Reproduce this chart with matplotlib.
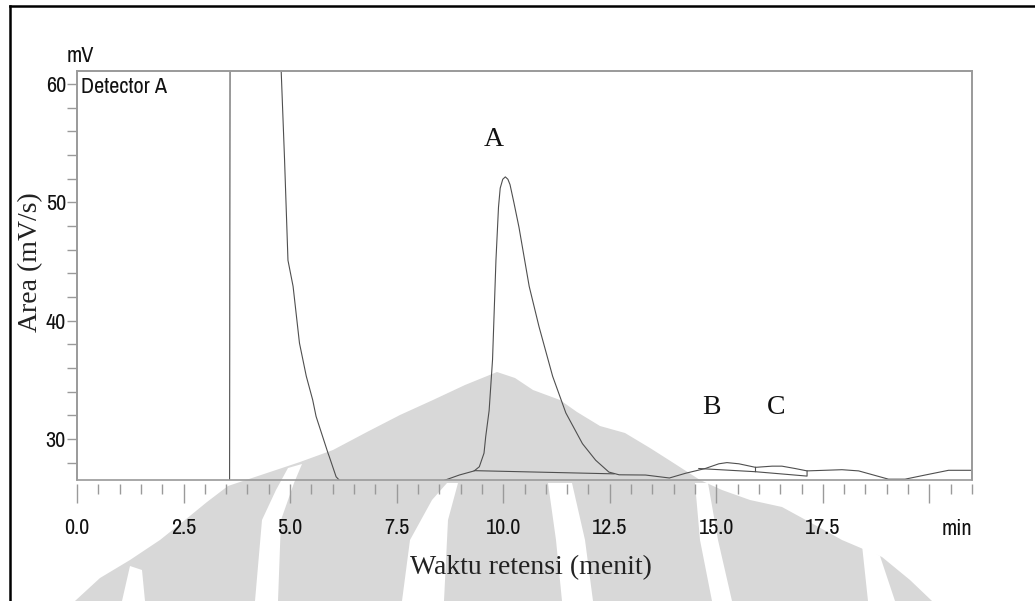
import numpy as np
import matplotlib.pyplot as plt
from matplotlib import font_manager
from matplotlib.patches import Polygon, Rectangle
from matplotlib.lines import Line2D

# detector trace (min, mV); values outside the window are clipped by the axes
time_min = [0.0, 3.58, 3.60, 4.75, 4.79, 4.87, 4.95, 5.07, 5.22, 5.38, 5.53, 5.61,
            5.89, 5.92, 6.08, 6.16, 6.5, 7.5, 8.3, 8.62, 8.97, 9.32, 9.44, 9.55,
            9.59, 9.67, 9.75, 9.83, 9.89, 9.93, 9.99, 10.05, 10.11, 10.16, 10.25,
            10.37, 10.61, 10.84, 11.16, 11.47, 11.86, 12.17, 12.48, 12.72, 13.34,
            13.81, 13.9, 14.28, 14.74, 15.06, 15.25, 15.53, 15.92, 16.31, 16.54,
            16.85, 17.13, 17.95, 18.34, 19.04, 19.43, 19.9, 20.45, 21.0]
signal_mv = [26.0, 26.0, 90.0, 90.0, 61.2, 53.6, 45.1, 42.9, 38.1, 35.3, 33.3, 31.9,
             28.8, 28.5, 26.8, 26.5, 25.8, 25.6, 25.9, 26.5, 26.95, 27.3, 27.65, 28.8,
             30.2, 32.4, 36.7, 45.1, 49.6, 51.2, 51.95, 52.15, 51.95, 51.5, 50.0,
             47.9, 42.9, 39.5, 35.3, 32.2, 29.6, 28.2, 27.2, 26.97, 26.95,
             26.74, 26.7, 27.1, 27.5, 27.9, 28.0, 27.9, 27.6, 27.7, 27.7,
             27.5, 27.3, 27.4, 27.3, 26.6, 26.6, 26.95, 27.35, 27.35]

# integration baselines of the three peaks
base_a_t = [9.32, 12.6]
base_a_mv = [27.32, 27.05]
base_b_t = [14.59, 15.92, 15.92]
base_b_mv = [27.5, 27.23, 27.6]
base_c_t = [15.92, 17.13, 17.13]
base_c_mv = [27.23, 26.86, 27.3]

peak_names = ['A', 'B', 'C']
peak_t = [9.77, 14.88, 16.4]
peak_mv = [55.3, 32.7, 32.7]

x_major = [0.0, 2.5, 5.0, 7.5, 10.0, 12.5, 15.0, 17.5, 20.0]
x_labels = ['0.0', '2.5', '5.0', '7.5', '10.0', '12.5', '15.0', '17.5', '']
y_major = [30, 40, 50, 60]

W, H = 1035, 601

# narrow sans for the instrument labels
installed = {f.name for f in font_manager.fontManager.ttflist}
narrow = 'Liberation Sans'
for cand in ['Liberation Sans Narrow', 'Arial Narrow', 'Archivo Narrow', 'PT Sans Narrow',
             'Roboto Condensed', 'Pragati Narrow', 'Asap Condensed', 'Fira Sans Condensed',
             'IBM Plex Sans Condensed', 'Encode Sans Condensed', 'Open Sans Condensed']:
    if cand in installed:
        narrow = cand
        break
tk = dict(family=narrow, fontsize=16, color='#111111')
serif = 'Liberation Serif'

fig = plt.figure(figsize=(W / 100, H / 100), dpi=100, facecolor='white')


def px(x, y):
    return (x / W, 1 - y / H)


# faint logo watermark behind the plot
wm_color = '#d8d8d8'
dome = [(75, 601), (100, 578), (130, 560), (160, 540), (185, 520), (207, 502),
        (228, 486), (270, 472), (300, 462), (333, 450), (367, 432), (400, 415),
        (433, 400), (465, 385), (497, 372), (515, 378), (533, 390), (560, 400),
        (577, 412), (600, 426), (625, 433), (650, 448), (672, 462), (700, 480),
        (722, 490), (750, 500), (782, 507), (815, 525), (842, 540), (882, 557),
        (910, 580), (932, 601)]
fig.patches.append(Polygon([px(*p) for p in dome], closed=True, transform=fig.transFigure,
                           facecolor=wm_color, edgecolor='none', zorder=-2))
gaps = [
    [(122, 601), (145, 601), (142, 570), (130, 566)],
    [(255, 601), (278, 601), (281, 520), (294, 483), (302, 464), (288, 468), (276, 490), (262, 520)],
    [(402, 601), (444, 601), (448, 520), (458, 483), (447, 483), (432, 500), (410, 540)],
    [(548, 483), (572, 483), (585, 540), (593, 601), (562, 601), (556, 540)],
    [(695, 483), (708, 483), (718, 540), (732, 601), (712, 601), (700, 540)],
    [(862, 545), (880, 556), (895, 601), (868, 601)],
]
for g in gaps:
    fig.patches.append(Polygon([px(*p) for p in g], closed=True, transform=fig.transFigure,
                               facecolor='white', edgecolor='none', zorder=-1))

# page border
fig.add_artist(Line2D([10 / W, 1], [1 - 6 / H] * 2, color='black', lw=1.8, transform=fig.transFigure))
fig.add_artist(Line2D([10 / W] * 2, [0, 1 - 6 / H], color='black', lw=1.8, transform=fig.transFigure))

ax = fig.add_axes([77 / W, 1 - 480 / H, (972 - 77) / W, (480 - 71) / H])
ax.set_facecolor('none')

ax.plot(time_min, signal_mv, color='#4f4f4f', lw=0.8)
ax.plot(base_a_t, base_a_mv, color='#4f4f4f', lw=0.8)
ax.plot(base_b_t, base_b_mv, color='#4f4f4f', lw=0.8)
ax.plot(base_c_t, base_c_mv, color='#4f4f4f', lw=0.8)

ax.set_xlim(0, 21)
ax.set_ylim(26.53, 61.1)

frame_c = '#9a9a9a'
for sp in ax.spines.values():
    sp.set_color(frame_c)
    sp.set_linewidth(1.2)
# ticks sit a little below the frame
ax.spines['bottom'].set_position(('outward', 3))
ax.spines['bottom'].set_color('none')
ax.add_patch(Rectangle((0, 0), 1, 1, transform=ax.transAxes, fill=False,
                       edgecolor=frame_c, lw=1.2, clip_on=False, zorder=3))

ax.set_xticks(x_major)
ax.set_xticklabels(x_labels, **tk)
ax.set_xticks(np.arange(0, 21.01, 0.5), minor=True)
ax.set_yticks(y_major)
ax.set_yticklabels([str(v) for v in y_major], **tk)
ax.set_yticks(np.arange(28, 61, 2), minor=True)
ax.tick_params(axis='x', which='major', length=14, width=1.0, color=frame_c, pad=10)
ax.tick_params(axis='x', which='minor', length=7, width=1.0, color=frame_c)
ax.tick_params(axis='y', which='both', length=7, width=1.0, color=frame_c, pad=1)

ax.text(21.0, -0.095, 'min', transform=ax.get_xaxis_transform(), ha='right', va='top', **tk)
fig.text(80 / W, 1 - 56 / H, 'mV', ha='center', va='center', **tk)
ax.text(0.004, 0.985, 'Detector A', transform=ax.transAxes, ha='left', va='top', **tk)

for name, t, v in zip(peak_names, peak_t, peak_mv):
    ax.text(t, v, name, ha='center', va='center', fontsize=20, family=serif, color='#111111')

fig.text(31 / W, 1 - 262 / H, 'Area (mV/s)', rotation=90, ha='center', va='center',
         fontsize=20, family=serif, color='#222222')
fig.text(531 / W, 1 - 568 / H, 'Waktu retensi (menit)', ha='center', va='center',
         fontsize=20, family=serif, color='#222222')

fig.savefig('out.png', dpi=100, facecolor='white')
